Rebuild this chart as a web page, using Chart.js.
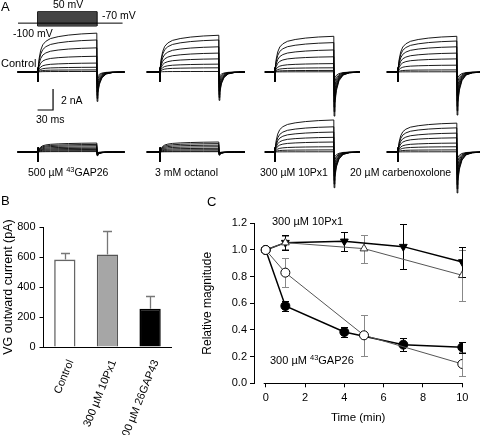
<!DOCTYPE html>
<html>
<head>
<meta charset="utf-8">
<script src="https://cdn.jsdelivr.net/npm/chart.js@4.4.1/dist/chart.umd.min.js"></script>
<style>
body { margin: 0; background: #fff; }
#fig { position: relative; width: 480px; height: 435px; overflow: hidden; font-family: 'Liberation Sans', Arial, sans-serif; color: #000; }
#fig canvas { position: absolute; }
.t { position: absolute; font-size: 10.5px; line-height: 12px; white-space: nowrap; z-index: 2; }
.sup { font-size: 7.5px; position: relative; top: -4px; }
.p { position: absolute; font-size: 13px; line-height: 14px; z-index: 2; }
</style>
</head>
<body>
<div id="fig">
	<div class="p" style="left:1px;top:0px">A</div>
	<div class="p" style="left:1px;top:194px">B</div>
	<div class="p" style="left:207px;top:195px">C</div>

	<div class="t" style="left:53px;top:-2px">50 mV</div>
	<div class="t" style="left:102px;top:9px">-70 mV</div>
	<div class="t" style="left:13px;top:27px">-100 mV</div>
	<div class="t" style="left:1px;top:57px;font-size:11px">Control</div>
	<div class="t" style="left:61px;top:94px">2 nA</div>
	<div class="t" style="left:36px;top:113px">30 ms</div>
	<div class="t" style="left:28px;top:166px">500 µM <span class="sup">43</span>GAP26</div>
	<div class="t" style="left:155px;top:166px">3 mM octanol</div>
	<div class="t" style="left:260px;top:166px">300 µM 10Px1</div>
	<div class="t" style="left:350px;top:166px">20 µM carbenoxolone</div>

	<div class="t" style="left:272px;top:215px;font-size:11px">300 µM 10Px1</div>
	<div class="t" style="left:270px;top:354px;font-size:11px">300 µM <span class="sup">43</span>GAP26</div>
</div>
<script>
const FONT = "'Liberation Sans', Arial, sans-serif"

// A: time course of one step, shared by every trace
const STEP_MS = 115
const SPIKE_MS = [0.3, 0.8]
const SPIKE_NA = [-0.9, 0.4]
const ACT_MS = [1.5, 3, 6, 10, 16, 25, 40, 60, 85, 115]
const ACT_FRAC = [0.15, 0.35, 0.56, 0.7, 0.79, 0.86, 0.91, 0.95, 0.98, 1]
const TAIL_MS = [0.5, 2, 5, 10, 18, 30, 50]
const TAIL_FRAC = [1, 0.72, 0.42, 0.2, 0.07, 0.02, 0]
const TAIL_FAN = [1, 0.9, 0.8, 0.68, 0.55, 0.42, 0.3, 0.18]

// A: current at the end of each step (nA), largest first
const CONTROL_1 = [3.7, 3.05, 2.3, 1.5, 0.85, 0.45, 0.2, 0.05]
const CONTROL_2 = [3.5, 3.05, 2.4, 1.8, 1.25, 0.75, 0.4, 0.05]
const CONTROL_3 = [3.4, 2.8, 2.1, 1.45, 0.8, 0.4, 0.15, 0.02]
const CONTROL_4 = [3.4, 2.95, 2.4, 1.8, 1.25, 0.65, 0.2, 0.02]
const GAP26 = [0.85, 0.72, 0.6, 0.47, 0.35, 0.24, 0.13, 0.04]
const OCTANOL = [0.95, 0.8, 0.65, 0.5, 0.35, 0.22, 0.1, 0.03]
const PX1 = [3.05, 2.4, 1.9, 1.4, 0.95, 0.5, 0.2, 0.02]
const CBX = [2.75, 2.3, 1.8, 1.35, 0.85, 0.5, 0.2, 0.02]
const TAIL_ROW1 = [2.8, 2.7, 4.2, 4.1]
const TAIL_ROW2 = [0.35, 0.3, 3.4, 3.9]
const START_MS = [-39, -25, -19, -21]
const END_MS = [169, 155, 159, 159]

// A: voltage protocol (mV) and scale bar
const HOLD_MV = -70
const STEP_LO_MV = -100
const STEP_HI_MV = 50
const PROT_MS = [-38, 165]
const BAR_MS = 30
const BAR_NA = 2

// B
const B_LABELS = ['Control', '300 µM 10Px1', '300 µM 26GAP43']
const B_MEAN = [583, 617, 255]
const B_ERR = [44, 158, 83]
const B_MAX = 800
const B_STEP = 200

// C
const T_FILLED = [0, 1, 4, 7, 10]
const T_OPEN = [0, 1, 5, 10]
const PX1_FILLED = [1.0, 1.055, 1.065, 1.025, 0.91]
const PX1_FILLED_ERR = [0, 0.055, 0.07, 0.17, 0.115]
const PX1_OPEN = [1.0, 1.055, 1.01, 0.81]
const PX1_OPEN_ERR = [0, 0.05, 0.105, 0.19]
const GAP_FILLED = [1.0, 0.58, 0.385, 0.29, 0.27]
const GAP_FILLED_ERR = [0, 0.04, 0.035, 0.05, 0.043]
const GAP_OPEN = [1.0, 0.83, 0.36, 0.145]
const GAP_OPEN_ERR = [0, 0.11, 0.155, 0.09]
const C_XTICKS = [0, 2, 4, 6, 8, 10]
const C_YTICKS = [0, 0.2, 0.4, 0.6, 0.8, 1.0, 1.2]

// layout of panel A
const ONSET_PX = [38, 160, 275, 398]
const ROW_BASE_PX = [72, 152]
const PX_PER_MS = 0.515
const PX_PER_NA = 10.5

function addCanvas(left, top, w, h) {
	const c = document.createElement('canvas')
	c.width = w
	c.height = h
	c.style.left = left + 'px'
	c.style.top = top + 'px'
	document.getElementById('fig').appendChild(c)
	return c
}

const bare = (xmin, xmax, ymin, ymax) => ({
	responsive: false, animation: false, devicePixelRatio: 1,
	layout: { padding: 0 },
	plugins: { legend: { display: false }, tooltip: { enabled: false } },
	scales: {
		x: { type: 'linear', display: false, min: xmin, max: xmax },
		y: { type: 'linear', display: false, min: ymin, max: ymax }
	}
})

const line = (data, w, color) => ({
	data: data, showLine: true, pointRadius: 0, borderWidth: w,
	borderColor: color || '#000', fill: false, tension: 0
})

function traceChart(col, row, amps, tailPeak, extra) {
	const w = 150, h = 100
	const c = addCanvas(ONSET_PX[col] - 40 * PX_PER_MS, ROW_BASE_PX[row] - h / 2, w, h)
	const sets = amps.map((amp, i) => line([
		{ x: START_MS[col], y: 0 }, { x: 0, y: 0 },
		...SPIKE_MS.map((t, k) => ({ x: t, y: SPIKE_NA[k] })),
		...ACT_MS.map((t, k) => ({ x: t, y: amp * ACT_FRAC[k] })),
		...TAIL_MS.map((t, k) => ({ x: STEP_MS + t, y: -tailPeak * TAIL_FAN[i] * TAIL_FRAC[k] })),
		{ x: END_MS[col], y: 0 }
	], 0.9))
	const half = h / 2 / PX_PER_NA
	new Chart(c, {
		type: 'scatter',
		data: { datasets: sets.concat(extra || []) },
		options: bare(-40, -40 + w / PX_PER_MS, -half, half)
	})
}

// protocol
{
	const c = addCanvas(ONSET_PX[0] - 40 * PX_PER_MS, 0, 150, 40)
	const pxPerMv = 14.3 / (STEP_HI_MV - STEP_LO_MV)
	new Chart(c, {
		type: 'scatter',
		data: { datasets: [
			line([{ x: PROT_MS[0], y: HOLD_MV }, { x: PROT_MS[1], y: HOLD_MV }], 1),
			Object.assign(line([{ x: 0, y: STEP_HI_MV }, { x: STEP_MS, y: STEP_HI_MV }], 0), {
				fill: { value: STEP_LO_MV }, backgroundColor: '#444'
			}),
			line([{ x: 0, y: STEP_LO_MV }, { x: 0, y: STEP_HI_MV }, { x: STEP_MS, y: STEP_HI_MV },
				{ x: STEP_MS, y: STEP_LO_MV }, { x: 0, y: STEP_LO_MV }], 1)
		] },
		options: bare(-40, -40 + 150 / PX_PER_MS, STEP_HI_MV - 28.3 / pxPerMv, STEP_HI_MV + 11.7 / pxPerMv)
	})
}

const scaleBar = line([
	{ x: 0, y: -3.62 }, { x: BAR_MS, y: -3.62 }, { x: BAR_MS, y: -3.62 + BAR_NA }
], 1.2)

traceChart(0, 0, CONTROL_1, TAIL_ROW1[0], [scaleBar])
traceChart(1, 0, CONTROL_2, TAIL_ROW1[1])
traceChart(2, 0, CONTROL_3, TAIL_ROW1[2])
traceChart(3, 0, CONTROL_4, TAIL_ROW1[3])
traceChart(0, 1, GAP26, TAIL_ROW2[0])
traceChart(1, 1, OCTANOL, TAIL_ROW2[1])
traceChart(2, 1, PX1, TAIL_ROW2[2])
traceChart(3, 1, CBX, TAIL_ROW2[3])

// error bars drawn through the chart's own scales
function drawErrors(chart) {
	const ctx = chart.ctx
	chart.data.datasets.forEach((ds, i) => {
		if (!ds.errors) return
		const meta = chart.getDatasetMeta(i)
		const ys = chart.scales[meta.yAxisID]
		ctx.save()
		ctx.strokeStyle = ds.errorColor || '#000'
		ctx.lineWidth = ds.errorWidth || 1
		meta.data.forEach((el, j) => {
			const e = ds.errors[j]
			if (!e) return
			const v = typeof ds.data[j] === 'object' ? ds.data[j].y : ds.data[j]
			const cap = ds.errorCap || 3.5
			const top = Math.round(ys.getPixelForValue(v + e)) + 0.5
			const bot = ds.errorUpOnly ? ys.getPixelForValue(v) : Math.round(ys.getPixelForValue(v - e)) + 0.5
			const x = Math.round(el.x) + 0.5
			ctx.beginPath()
			ctx.moveTo(x, bot)
			ctx.lineTo(x, top)
			ctx.moveTo(x - cap, top)
			ctx.lineTo(x + cap, top)
			if (!ds.errorUpOnly) {
				ctx.moveTo(x - cap, bot)
				ctx.lineTo(x + cap, bot)
			}
			ctx.stroke()
		})
		ctx.restore()
	})
}

// B
new Chart(addCanvas(-3, 200, 203, 235), {
	type: 'bar',
	data: {
		labels: B_LABELS,
		datasets: [{
			data: B_MEAN, errors: B_ERR, errorUpOnly: true, errorColor: '#777', errorWidth: 1.3, errorCap: 4.5,
			backgroundColor: ['#fff', '#a6a6a6', '#000'],
			borderColor: ['#666', '#555', '#000'],
			borderWidth: 1.6, barPercentage: 0.5, categoryPercentage: 1
		}]
	},
	options: {
		responsive: false, animation: false, devicePixelRatio: 1,
		layout: { padding: { top: 27, right: 28.6, left: 0, bottom: 0 } },
		plugins: { legend: { display: false }, tooltip: { enabled: false } },
		scales: {
			x: {
				grid: { display: false },
				border: { display: true, color: '#000', width: 1 },
				ticks: { color: '#000', font: { size: 11, family: FONT }, minRotation: 68, maxRotation: 68, padding: 3, labelOffset: 6, autoSkip: false },
				afterFit: s => { s.height = 88 }
			},
			y: {
				type: 'linear', position: 'left', display: true, min: 0, max: B_MAX,
				ticks: { display: true, stepSize: B_STEP, color: '#000', font: { size: 11, family: FONT }, padding: 4 },
				grid: { drawOnChartArea: false, drawTicks: true, tickLength: 4, color: '#000' },
				border: { color: '#000', width: 1 },
				title: { display: true, text: 'VG outward current (pA)', color: '#000', font: { size: 12.5, family: FONT }, padding: { top: 4, bottom: 0 } },
				afterFit: s => { s.width = 46.5 }
			}
		}
	},
	plugins: [{ id: 'errB', afterDatasetsDraw: drawErrors }]
})

// C
const pts = (xs, ys) => xs.map((x, i) => ({ x: x, y: ys[i] }))
const series = (data, errs, o) => Object.assign({
	data: data, errors: errs, showLine: true, tension: 0, fill: false,
	pointRadius: 4.5, pointBorderWidth: 1, pointBorderColor: '#000'
}, o)

new Chart(addCanvas(200, 195, 280, 240), {
	type: 'scatter',
	data: { datasets: [
		series(pts(T_OPEN, GAP_OPEN), GAP_OPEN_ERR, {
			borderColor: '#555', borderWidth: 1, pointStyle: 'circle', pointBackgroundColor: '#fff', errorColor: '#888'
		}),
		series(pts(T_FILLED, GAP_FILLED), GAP_FILLED_ERR, {
			borderColor: '#000', borderWidth: 1.5, pointStyle: 'circle', pointBackgroundColor: '#000', errorColor: '#000'
		}),
		series(pts(T_OPEN, PX1_OPEN), PX1_OPEN_ERR, {
			borderColor: '#555', borderWidth: 1, pointStyle: 'triangle', pointBackgroundColor: '#fff', pointBorderColor: '#333', errorColor: '#888'
		}),
		series(pts(T_FILLED, PX1_FILLED), PX1_FILLED_ERR, {
			borderColor: '#000', borderWidth: 1.5, pointStyle: 'triangle', pointRotation: 180, pointBackgroundColor: '#000', errorColor: '#000'
		})
	] },
	options: {
		responsive: false, animation: false, devicePixelRatio: 1,
		layout: { padding: { top: 28.3, right: 17.7, left: 0, bottom: 0 } },
		plugins: { legend: { display: false }, tooltip: { enabled: false } },
		scales: {
			x: {
				type: 'linear', min: -0.595, max: 10,
				afterBuildTicks: s => { s.ticks = C_XTICKS.map(v => ({ value: v })) },
				ticks: { color: '#000', font: { size: 11, family: FONT }, padding: 4 },
				grid: { drawOnChartArea: false, drawTicks: true, tickLength: 4, color: '#000' },
				border: { display: false },
				title: { display: true, text: 'Time (min)', color: '#000', font: { size: 11.5, family: FONT }, padding: { top: 0, bottom: 10 } },
				afterFit: s => { s.height = 51.7 }
			},
			y: {
				type: 'linear', min: 0, max: 1.2,
				afterBuildTicks: s => { s.ticks = C_YTICKS.map(v => ({ value: v })) },
				ticks: { color: '#000', font: { size: 11, family: FONT }, padding: 3, callback: v => v.toFixed(1) },
				grid: { drawOnChartArea: false, drawTicks: true, tickLength: 4, color: '#000' },
				border: { color: '#000', width: 1 },
				title: { display: true, text: 'Relative magnitude', color: '#000', font: { size: 12, family: FONT }, padding: { top: 0, bottom: 0 } },
				afterFit: s => { s.width = 54 }
			}
		}
	},
	plugins: [{
		id: 'errC',
		beforeDatasetsDraw: drawErrors,
		afterDraw(chart) {
			// x axis line starts at time zero, not at the y axis
			const ctx = chart.ctx, xs = chart.scales.x, a = chart.chartArea
			ctx.save()
			ctx.strokeStyle = '#000'
			ctx.lineWidth = 1
			ctx.beginPath()
			ctx.moveTo(xs.getPixelForValue(C_XTICKS[0]) - 2, Math.round(a.bottom) + 0.5)
			ctx.lineTo(a.right, Math.round(a.bottom) + 0.5)
			ctx.stroke()
			ctx.restore()
		}
	}]
})
</script>
</body>
</html>
